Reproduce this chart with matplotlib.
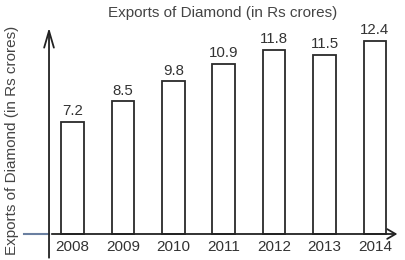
import numpy as np
import matplotlib
matplotlib.use('Agg')
import matplotlib.pyplot as plt

plt.rcParams['font.family'] = ['Liberation Sans', 'DejaVu Sans']

years = ['2008', '2009', '2010', '2011', '2012', '2013', '2014']
exports = [7.2, 8.5, 9.8, 10.9, 11.8, 11.5, 12.4]

fig = plt.figure(figsize=(4.06, 2.60), dpi=100)
ax = fig.add_axes([0, 0, 1, 1])
ax.axis('off')
ax.set_xlim(-1.4385, 6.617)
ax.set_ylim(-1.667, 15.0)

x = np.arange(len(years))
ax.bar(x, exports, width=0.45, facecolor='white', edgecolor='#2a2a2a', linewidth=1.3, zorder=2)

for xi, v in zip(x, exports):
    ax.annotate(f'{v}', (xi, v), xytext=(0, 2.5), textcoords='offset points',
                ha='center', va='bottom', fontsize=10.8, color='#333333')
for xi, yr in zip(x, years):
    ax.text(xi, -0.85, yr, ha='center', va='center', fontsize=11, color='#333333')

# axes drawn as arrows
ax.plot([-0.96, -0.466], [0, 0], color='#6a7fa0', lw=1.5, zorder=3)
ax.annotate('', xy=(6.50, 0), xytext=(-0.466, 0),
            arrowprops=dict(arrowstyle='->,head_length=0.6,head_width=0.35', color='#222222', lw=1.3),
            zorder=3)
ax.annotate('', xy=(-0.466, 13.4), xytext=(-0.466, -1.7),
            arrowprops=dict(arrowstyle='->,head_length=1.2,head_width=0.35', color='#222222', lw=1.3),
            zorder=3)

fig.text(223/406, 1 - 13/260, 'Exports of Diamond (in Rs crores)', ha='center', va='center',
         fontsize=11, color='#444444')
fig.text(12/406, 1 - 140/260, 'Exports of Diamond (in Rs crores)', ha='center', va='center',
         rotation=90, fontsize=11, color='#444444')

fig.savefig('out.png', dpi=100)
